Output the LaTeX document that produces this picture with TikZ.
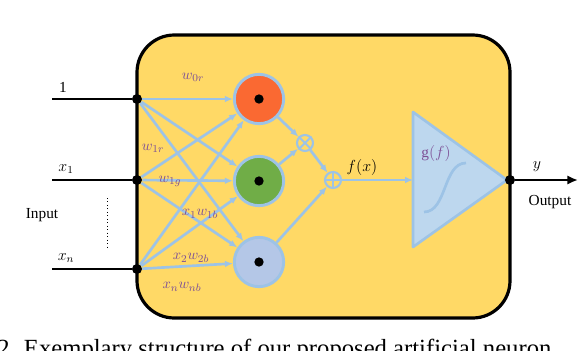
\documentclass[tikz,border=0pt]{standalone}
\usepackage{fontspec}
\setmainfont{Liberation Serif}
\usepackage{tikz}
\usetikzlibrary{arrows.meta,positioning,calc}
\usepackage{amsmath}
\definecolor{cellYellow}{RGB}{255,217,102}
\definecolor{wireBlue}{RGB}{157,195,230}
\definecolor{triBlue}{RGB}{189,215,238}
\definecolor{redUnit}{RGB}{250,105,50}
\definecolor{greenUnit}{RGB}{112,173,71}
\definecolor{blueUnit}{RGB}{180,199,231}
\definecolor{wPurple}{RGB}{125,80,150}
\tikzset{
  unitNode/.style={circle,draw=wireBlue,line width=2.2pt,fill=#1,
                   minimum size=37pt,inner sep=0pt},
  opNode/.style={circle,draw=wireBlue,line width=1.6pt,minimum size=12pt,inner sep=0pt},
  wireArrow/.style={-{Latex[length=6pt,width=5pt]},line width=2pt,wireBlue},
  inDot/.style={circle,fill=black,minimum size=7.5pt,inner sep=0pt},
  wTag/.style={text=wPurple,font=\fontsize{11}{13}\selectfont},
}
\begin{document}
\begin{tikzpicture}[x=0.75pt,y=-0.75pt,font=\fontsize{11.5}{14}\selectfont]
  \useasboundingbox (0,0) rectangle (578,350);
  \clip (0,0) rectangle (578,350);
  % neuron cell
  \draw[line width=2.4pt,fill=cellYellow,rounded corners=28pt] (137,35) rectangle (510,318);
  % inputs
  \coordinate (l0) at (52,99);
  \coordinate (l1) at (52,180);
  \coordinate (ln) at (52,269);
  \node[inDot](d0) at (137,99){};
  \node[inDot](d1) at (137,180){};
  \node[inDot](dn) at (137,269){};
  \foreach \x/\y in {l0/d0,l1/d1,ln/dn}{\draw[line width=2.2pt](\x)--(\y);}
  \node at (63,87){1};
  \node at (66,169){$x_1$};
  \node at (66,258){$x_n$};
  \node(inp) at (42,215){Input};
  \draw[line width=0.6pt,dotted] (107,198)--(107,248);
  % units
  \node[unitNode=redUnit](cR) at (259,99){};
  \node[unitNode=greenUnit](cG) at (259,181){};
  \node[unitNode=blueUnit](cB) at (259,262){};
  \foreach \c in {cR,cG,cB}{\fill (\c) circle (3.5pt);}
  \foreach \x in {d0,d1,dn}{
    \foreach \y in {cR,cG,cB}{\draw[wireArrow](\x)--(\y);}}
  \node[wTag] at (193,77){$w_{0r}$};
  \node[wTag] at (153,148){$w_{1r}$};
  \node[wTag] at (170,181){$w_{1g}$};
  \node[wTag] at (200,214){$x_1w_{1b}$};
  \node[wTag] at (191,258){$x_2w_{2b}$};
  \node[wTag] at (182,287){$x_nw_{nb}$};
  % combination
  \node[opNode](mul) at (305,143){};
  \node[opNode](add) at (333,180){};
  \draw[wireBlue,line width=1.4pt] (mul.north west)--(mul.south east) (mul.north east)--(mul.south west);
  \draw[wireBlue,line width=1.4pt] (add.north)--(add.south) (add.west)--(add.east);
  \draw[wireArrow](cR)--(mul);
  \draw[wireArrow](cG)--(mul);
  \draw[wireArrow](mul)--(add);
  \draw[wireArrow](cB)--(add);
  % activation
  \coordinate (tA) at (413,112);
  \coordinate (tB) at (413,247);
  \coordinate (tTip) at (507,180);
  \coordinate (tIn) at (413,180);
  \draw[wireBlue,line width=2pt,fill=triBlue,line join=round] (tA)--(tTip)--(tB)--cycle;
  \draw[wireBlue,line width=2pt] (424,212) .. controls (447,212) and (443,163) .. (466,163);
  \node[text=wPurple] at (436,153){$\mathrm{g}(f)$};
  \draw[wireArrow](add)--(tIn);
  \node at (362,167){$f(x)$};
  % output
  \node[inDot](dOut) at (510,180){};
  \coordinate (yEnd) at (578,180);
  \draw[-{Latex[length=8pt,width=7pt]},line width=2pt](dOut)--(yEnd);
  \node at (537,167){$y$};
  \node(outp) at (550,202){Output};
  % caption
  \node[anchor=base west,inner sep=0pt,font=\fontsize{18.5}{22}\selectfont] at (-3,356)
    {2. Exemplary structure of our proposed artificial neuron.};
\end{tikzpicture}
\end{document}
